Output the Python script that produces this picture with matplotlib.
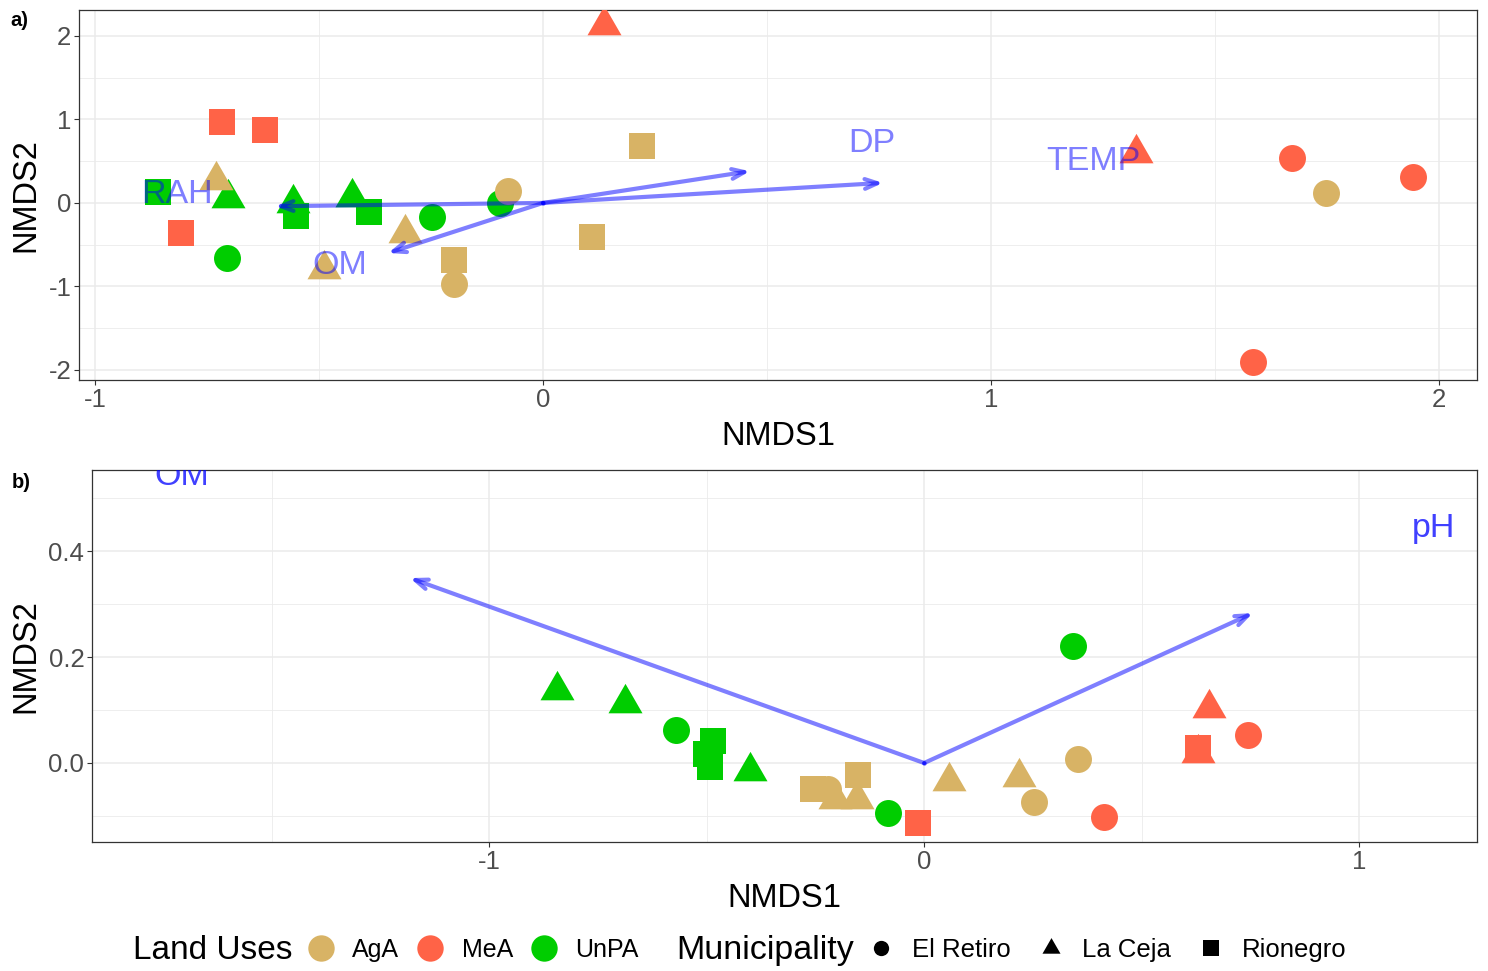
import matplotlib
matplotlib.use("Agg")
import matplotlib.pyplot as plt  # noqa: E402
from matplotlib.lines import Line2D  # noqa: E402

plt.rcParams["font.family"] = ["Liberation Sans", "DejaVu Sans"]
plt.rcParams["axes.unicode_minus"] = False

# ---- data -------------------------------------------------------------
LAND_USES = ["AgA", "MeA", "UnPA"]
MUNICIPALITIES = ["El Retiro", "La Ceja", "Rionegro"]

# panel a) NMDS scores
a_land = ["UnPA"] * 9 + ["AgA"] * 9 + ["MeA"] * 8
a_muni = (["La Ceja"] * 3 + ["Rionegro"] * 3 + ["El Retiro"] * 3
          + ["La Ceja"] * 3 + ["Rionegro"] * 3 + ["El Retiro"] * 3
          + ["La Ceja"] * 2 + ["Rionegro"] * 3 + ["El Retiro"] * 3)
a_x = [-0.703, -0.558, -0.426, -0.859, -0.551, -0.388, -0.705, -0.248, -0.096,
       -0.730, -0.308, -0.489, -0.199, 0.221, 0.109, -0.199, -0.078, 1.748,
       0.136, 1.323, -0.717, -0.621, -0.808, 1.672, 1.942, 1.585]
a_y = [0.06, 0.0, 0.07, 0.13, -0.16, -0.11, -0.66, -0.17, 0.0,
       0.275, -0.36, -0.79, -0.68, 0.68, -0.41, -0.97, 0.14, 0.12,
       2.13, 0.60, 0.97, 0.87, -0.36, 0.54, 0.31, -1.90]

a_vec = ["DP", "TEMP", "RAH", "OM"]
a_vec_x = [0.462, 0.759, -0.598, -0.346]
a_vec_y = [0.38, 0.24, -0.04, -0.60]
a_lab_x = [0.734, 1.228, -0.817, -0.453]
a_lab_y = [0.71, 0.49, 0.10, -0.75]

# panel b) NMDS scores
b_land = ["AgA"] * 9 + ["UnPA"] * 9 + ["MeA"] * 6
b_muni = (["Rionegro"] * 2 + ["El Retiro"] * 3 + ["La Ceja"] * 4
          + ["La Ceja"] * 3 + ["El Retiro"] * 3 + ["Rionegro"] * 3
          + ["La Ceja"] * 2 + ["Rionegro"] * 2 + ["El Retiro"] * 2)
b_x = [-0.255, -0.152, -0.220, 0.253, 0.354, -0.205, -0.154, 0.057, 0.219,
       -0.844, -0.688, -0.400, -0.570, -0.084, 0.343, -0.485, -0.501, -0.492,
       0.630, 0.655, -0.015, 0.630, 0.414, 0.745]
b_y = [-0.049, -0.023, -0.050, -0.073, 0.008, -0.068, -0.068, -0.034, -0.026,
       0.1375, 0.114, -0.015, 0.0625, -0.094, 0.221, 0.041, 0.017, -0.007,
       0.019, 0.104, -0.114, 0.028, -0.101, 0.053]

b_vec = ["OM", "pH"]
b_vec_x = [-1.182, 0.756]
b_vec_y = [0.349, 0.283]
b_lab_x = [-1.706, 1.172]
b_lab_y = [0.54, 0.443]

# ---- styles -----------------------------------------------------------
COLORS = {"AgA": "#D8B365", "MeA": "#FF6347", "UnPA": "#00CD00"}
TRI = [(0, 1), (-0.866, -0.5), (0.866, -0.5)]  # centroid at origin, like R pch 17
MARKERS = {"El Retiro": "o", "La Ceja": TRI, "Rionegro": "s"}
SIZES = {"El Retiro": 377, "La Ceja": 800, "Rionegro": 350}
GRID = "#EBEBEB"
TEXT_GREY = "#4D4D4D"


def style_axes(ax, xmajor, xminor, ymajor, yminor, yfmt, ylab_x):
    ax.set_xticks(xmajor)
    ax.set_xticks(xminor, minor=True)
    ax.set_yticks(ymajor)
    ax.set_yticks(yminor, minor=True)
    ax.set_yticklabels([yfmt(v) for v in ymajor])
    ax.grid(which="major", color=GRID, lw=1.1, zorder=0)
    ax.grid(which="minor", color=GRID, lw=0.6, zorder=0)
    ax.set_axisbelow(True)
    ax.tick_params(which="major", length=3.5, width=0.8, color="#333333",
                   labelsize=18.5, labelcolor=TEXT_GREY, pad=2)
    ax.tick_params(which="minor", length=0)
    for s in ax.spines.values():
        s.set_color("#333333")
        s.set_linewidth(0.9)
    ax.set_xlabel("NMDS1", fontsize=23.5, labelpad=7)
    ax.set_ylabel("NMDS2", fontsize=23.5)
    ax.yaxis.set_label_coords(ylab_x, 0.5)


def draw_points(ax, xs, ys, lands, munis):
    for x, y, l, m in zip(xs, ys, lands, munis):
        ax.scatter([x], [y], marker=MARKERS[m], s=SIZES[m], c=COLORS[l],
                   linewidths=0, zorder=3)


def draw_vectors(ax, names, vx, vy, lx, ly, text_color, text_alpha):
    for n, x, y, tx, ty in zip(names, vx, vy, lx, ly):
        ax.annotate("", xy=(x, y), xytext=(0, 0), zorder=4,
                    arrowprops=dict(arrowstyle="->,head_length=0.9,head_width=0.35",
                                    color="blue", alpha=0.5, lw=3,
                                    shrinkA=0, shrinkB=0))
        ax.text(tx, ty, n, color=text_color, alpha=text_alpha, fontsize=24.5,
                ha="center", va="center", zorder=5, clip_on=True)
    ax.scatter([0], [0], s=10, c="blue", alpha=0.6, zorder=4, linewidths=0)


fig = plt.figure(figsize=(14.88, 9.71), dpi=100)
axA = fig.add_axes([0.0531, 0.6087, 0.9395, 0.381])
axB = fig.add_axes([0.0618, 0.1329, 0.9308, 0.3831])

# panel a
draw_points(axA, a_x, a_y, a_land, a_muni)
draw_vectors(axA, a_vec, a_vec_x, a_vec_y, a_lab_x, a_lab_y, "blue", 0.5)
axA.set_xlim(-1.036, 2.085)
axA.set_ylim(-2.12, 2.31)
style_axes(axA, [-1, 0, 1, 2], [-0.5, 0.5, 1.5], [-2, -1, 0, 1, 2],
           [-1.5, -0.5, 0.5, 1.5], lambda v: f"{v:d}", -0.0272)

# panel b
draw_points(axB, b_x, b_y, b_land, b_muni)
draw_vectors(axB, b_vec, b_vec_x, b_vec_y, b_lab_x, b_lab_y, "blue", 0.75)
axB.set_xlim(-1.913, 1.271)
axB.set_ylim(-0.149, 0.553)
style_axes(axB, [-1, 0, 1], [-1.5, -0.5, 0.5], [0.0, 0.2, 0.4],
           [-0.1, 0.1, 0.3, 0.5], lambda v: f"{v:.1f}", -0.0368)

fig.text(10 / 1488, 1 - 20 / 971, "a)", fontsize=14.5, fontweight="bold",
         ha="left", va="center")
fig.text(12 / 1488, 1 - 483 / 971, "b)", fontsize=14.5, fontweight="bold",
         ha="left", va="center")

# legend row at the bottom
ly = 1 - 950 / 971
fig.text(133 / 1488, ly, "Land Uses", fontsize=24, ha="left", va="center")
h1 = [Line2D([], [], ls="", marker="o", markersize=19, color=COLORS[k],
             markeredgewidth=0) for k in LAND_USES]
fig.legend(h1, LAND_USES, loc="center left", bbox_to_anchor=(307 / 1488, ly),
           ncol=3, frameon=False, fontsize=18, handlelength=1.1,
           handletextpad=0.7, columnspacing=0.7, borderpad=0, borderaxespad=0)
fig.text(676 / 1488, ly, "Municipality", fontsize=24.5, ha="left", va="center")
h2 = [Line2D([], [], ls="", marker=MARKERS[k], markersize=11 if k != "La Ceja" else 15,
             color="black", markeredgewidth=0) for k in MUNICIPALITIES]
fig.legend(h2, MUNICIPALITIES, loc="center left", bbox_to_anchor=(867 / 1488, ly),
           ncol=3, frameon=False, fontsize=18.5, handlelength=1.1,
           handletextpad=0.66, columnspacing=1.0, borderpad=0, borderaxespad=0)

fig.savefig("out.png", dpi=100)
